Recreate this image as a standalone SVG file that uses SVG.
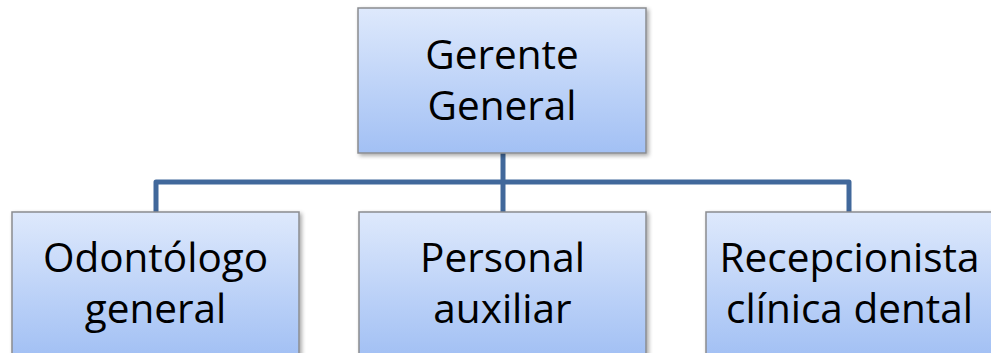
<svg xmlns="http://www.w3.org/2000/svg" width="991" height="353" viewBox="0 0 991 353">
  <defs>
    <linearGradient id="boxGrad" x1="0" y1="0" x2="0" y2="1">
      <stop offset="0" stop-color="#dee9fc"/>
      <stop offset="1" stop-color="#a2c0f4"/>
    </linearGradient>
    <filter id="shadow" x="-5%" y="-5%" width="115%" height="120%">
      <feGaussianBlur in="SourceAlpha" stdDeviation="2"/>
      <feOffset dx="2" dy="2" result="b"/>
      <feComponentTransfer><feFuncA type="linear" slope="0.35"/></feComponentTransfer>
      <feMerge><feMergeNode/><feMergeNode in="SourceGraphic"/></feMerge>
    </filter>
  </defs>
  <style>
    .box { fill: url(#boxGrad); stroke: #8a8c90; stroke-width: 1.5; filter: url(#shadow); }
    .lbl { font-family: "Open Sans", "Liberation Sans", sans-serif; font-size: 40.5px; fill: #000; text-anchor: middle; }
    .conn { fill: none; stroke: #41689b; stroke-width: 5; stroke-linejoin: round; }
  </style>
  <rect width="991" height="353" fill="#ffffff"/>
  <g id="connectors">
    <path class="conn" d="M156 212 V182 H849 V212"/>
    <path class="conn" d="M503 153 V212"/>
  </g>
  <g id="gerente">
    <rect class="box" x="358" y="8" width="288" height="145"/>
    <text class="lbl" x="502" y="69">Gerente</text>
    <text class="lbl" x="502" y="120">General</text>
  </g>
  <g id="odontologo">
    <rect class="box" x="12" y="212" width="287" height="145"/>
    <text class="lbl" x="155.5" y="272">Odontólogo</text>
    <text class="lbl" x="155.5" y="323">general</text>
  </g>
  <g id="personal">
    <rect class="box" x="359" y="212" width="287" height="145"/>
    <text class="lbl" x="502.5" y="272">Personal</text>
    <text class="lbl" x="502.5" y="323">auxiliar</text>
  </g>
  <g id="recepcionista">
    <rect class="box" x="706" y="212" width="287" height="145"/>
    <text class="lbl" x="849.5" y="272">Recepcionista</text>
    <text class="lbl" x="849.5" y="323">clínica dental</text>
  </g>
</svg>
